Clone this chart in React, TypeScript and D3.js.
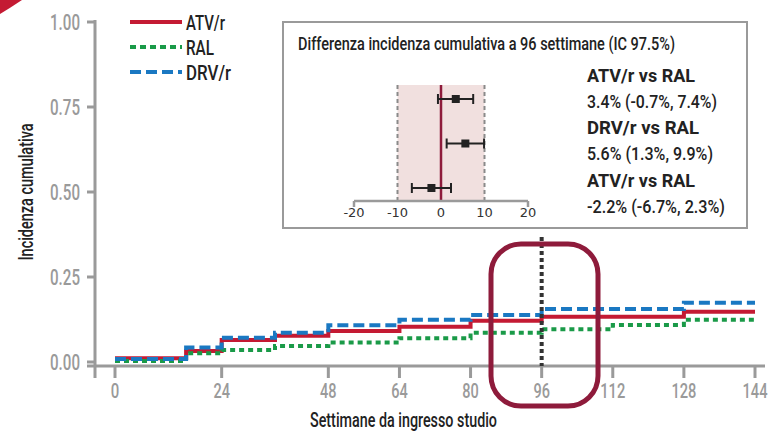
import React from "react";
import * as d3 from "d3";

const yTicks = [0, 0.25, 0.5, 0.75, 1.0];
const xTicks = [0, 24, 48, 64, 80, 96, 112, 128, 144];

const atvWeeks = [0, 16, 24, 36, 48, 64, 80, 96, 128, 144];
const atvValues = [0.011, 0.032, 0.065, 0.077, 0.091, 0.104, 0.121, 0.133, 0.148, 0.148];
const drvWeeks = [0, 16, 24, 36, 48, 64, 80, 96, 128, 144];
const drvValues = [0.009, 0.043, 0.071, 0.086, 0.108, 0.124, 0.138, 0.156, 0.174, 0.174];
const ralWeeks = [0, 16, 24, 36, 48, 64, 80, 96, 112, 128, 144];
const ralValues = [0.003, 0.026, 0.035, 0.047, 0.057, 0.07, 0.086, 0.096, 0.109, 0.124, 0.124];

const seriesNames = ["ATV/r", "RAL", "DRV/r"];

const comparisons = ["ATV/r vs RAL", "DRV/r vs RAL", "ATV/r vs RAL"];
const estimates = [3.4, 5.6, -2.2];
const lowers = [-0.7, 1.3, -6.7];
const uppers = [7.4, 9.9, 2.3];
const forestTicks = [-20, -10, 0, 10, 20];

const FONT = "Roboto, 'DejaVu Sans', sans-serif";
const TICKFONT = "'DejaVu Sans', 'Noto Sans', sans-serif";

const RED = "#c41a33";
const BLUE = "#1a78c2";
const GREEN = "#1a9a48";
const GRAY = "#9a9a9a";
const MAROON = "#8e1b3b";

function T(props: {
  x: number;
  y: number;
  w: number;
  size: number;
  fill?: string;
  anchor?: "start" | "middle" | "end";
  bold?: boolean;
  transform?: string;
  children: React.ReactNode;
}) {
  return (
    <text
      x={props.x}
      y={props.y}
      textLength={props.w}
      lengthAdjust="spacingAndGlyphs"
      textAnchor={props.anchor || "start"}
      fontFamily={FONT}
      fontSize={props.size}
      fontWeight={props.bold ? 700 : 500}
      fill={props.fill || "#222"}
      transform={props.transform}
    >
      {props.children}
    </text>
  );
}

export default function App() {
  const x = d3.scaleLinear().domain([0, 144]).range([115, 755]);
  const y = d3.scaleLinear().domain([0, 1]).range([362, 22]);
  const line = d3
    .line<[number, number]>()
    .x((d) => x(d[0]))
    .y((d) => y(d[1]))
    .curve(d3.curveStepAfter);
  const pts = (w: number[], v: number[]) => w.map((wk, i) => [wk, v[i]] as [number, number]);

  const fx = d3.scaleLinear().domain([-20, 20]).range([354, 528]);
  const rowY = d3.scalePoint<number>().domain([0, 1, 2]).range([99, 188]);
  const bandTop = 85;
  const fAxisY = 201;

  const legendY = [22, 47, 72];
  const legendW = [39, 28, 45];
  const legendStyles = [
    { color: RED, dash: "none" },
    { color: GREEN, dash: "6 4" },
    { color: BLUE, dash: "11 5" },
  ];
  const textRows = [82, 108, 134, 160, 187, 213];
  const boldW = [108, 112, 108];
  const regW = [130, 126, 138];

  const xTickW = (t: number) => {
    const s = String(t);
    return s.length === 1 ? 8.5 : s.length === 2 ? 16.5 : 25;
  };

  return (
    <svg width={771} height={433} style={{ position: "absolute", left: 0, top: 0 }}>
      <rect x={0} y={0} width={771} height={433} fill="#fff" />
      <path d="M0,0 L22,0 Q10,8 0,14 Z" fill={RED} />

      {/* axes */}
      <line x1={95} x2={95} y1={20} y2={378} stroke={GRAY} strokeWidth={3} />
      <line x1={87} x2={765} y1={366} y2={366} stroke={GRAY} strokeWidth={3} />
      {yTicks.map((t) => (
        <g key={t}>
          <line x1={87} x2={95} y1={y(t)} y2={y(t)} stroke={GRAY} strokeWidth={3} />
          <T x={80} y={y(t) + 8} w={30} size={22} fill={GRAY} anchor="end">
            {t.toFixed(2)}
          </T>
        </g>
      ))}
      {xTicks.map((t) => (
        <g key={t}>
          <line x1={x(t)} x2={x(t)} y1={366} y2={378} stroke={GRAY} strokeWidth={3} />
          <T x={x(t)} y={398} w={xTickW(t)} size={21} fill={GRAY} anchor="middle">
            {t}
          </T>
        </g>
      ))}
      <T x={403.5} y={427} w={187} size={21} anchor="middle">
        Settimane da ingresso studio
      </T>
      <T x={0} y={0} w={137} size={20} anchor="middle" transform="translate(33,192) rotate(-90)">
        Incidenza cumulativa
      </T>

      {/* step lines */}
      <path d={line(pts(atvWeeks, atvValues)) || ""} fill="none" stroke={RED} strokeWidth={4} />
      <path d={line(pts(ralWeeks, ralValues)) || ""} fill="none" stroke={GREEN} strokeWidth={4} strokeDasharray="5 4" />
      <path d={line(pts(drvWeeks, drvValues)) || ""} fill="none" stroke={BLUE} strokeWidth={4} strokeDasharray="11 5" />

      {/* 96 week marker */}
      <line x1={x(96)} x2={x(96)} y1={237} y2={366} stroke="#333" strokeWidth={4} strokeDasharray="4 3" />
      <rect x={491} y={244} width={107} height={162} rx={30} ry={30} fill="none" stroke={MAROON} strokeWidth={5} />

      {/* legend */}
      {seriesNames.map((n, i) => (
        <g key={n}>
          <line
            x1={130}
            x2={182}
            y1={legendY[i]}
            y2={legendY[i]}
            stroke={legendStyles[i].color}
            strokeWidth={4}
            strokeDasharray={legendStyles[i].dash}
          />
          <T x={186} y={legendY[i] + 8} w={legendW[i]} size={21}>
            {n}
          </T>
        </g>
      ))}

      {/* inset */}
      <rect x={283} y={22} width={464} height={206} fill="#fff" stroke={GRAY} strokeWidth={2} />
      <T x={298} y={50} w={377} size={18}>
        Differenza incidenza cumulativa a 96 settimane (IC 97.5%)
      </T>
      <rect x={fx(-10)} y={bandTop} width={fx(10) - fx(-10)} height={fAxisY - bandTop} fill="#f1e0df" />
      <line x1={fx(-10)} x2={fx(-10)} y1={bandTop} y2={fAxisY} stroke="#8a8a8a" strokeWidth={2} strokeDasharray="4 3" />
      <line x1={fx(10)} x2={fx(10)} y1={bandTop} y2={fAxisY} stroke="#8a8a8a" strokeWidth={2} strokeDasharray="4 3" />
      <line x1={fx(0)} x2={fx(0)} y1={bandTop} y2={fAxisY} stroke={MAROON} strokeWidth={2.5} />
      <line x1={fx(-20)} x2={fx(20)} y1={fAxisY} y2={fAxisY} stroke={GRAY} strokeWidth={2.5} />
      {[-20, 20].map((t) => (
        <line key={t} x1={fx(t)} x2={fx(t)} y1={fAxisY} y2={fAxisY + 6} stroke={GRAY} strokeWidth={2.5} />
      ))}
      {forestTicks.map((t) => (
        <text key={t} x={fx(t)} y={217} textAnchor="middle" fontFamily={TICKFONT} fontSize={13} fill="#333">
          {t}
        </text>
      ))}
      {estimates.map((e, i) => (
        <g key={i}>
          <line x1={fx(lowers[i])} x2={fx(uppers[i])} y1={rowY(i)} y2={rowY(i)} stroke="#222" strokeWidth={2} />
          <line x1={fx(lowers[i])} x2={fx(lowers[i])} y1={rowY(i)! - 5} y2={rowY(i)! + 5} stroke="#222" strokeWidth={2} />
          <line x1={fx(uppers[i])} x2={fx(uppers[i])} y1={rowY(i)! - 5} y2={rowY(i)! + 5} stroke="#222" strokeWidth={2} />
          <rect x={fx(e) - 4} y={rowY(i)! - 4} width={8} height={8} fill="#222" />
        </g>
      ))}
      {comparisons.map((c, i) => (
        <g key={i}>
          <T x={587} y={textRows[i * 2]} w={boldW[i]} size={19} bold>
            {c}
          </T>
          <T x={587} y={textRows[i * 2 + 1]} w={regW[i]} size={19}>
            {`${estimates[i]}% (${lowers[i]}%, ${uppers[i]}%)`}
          </T>
        </g>
      ))}
    </svg>
  );
}
